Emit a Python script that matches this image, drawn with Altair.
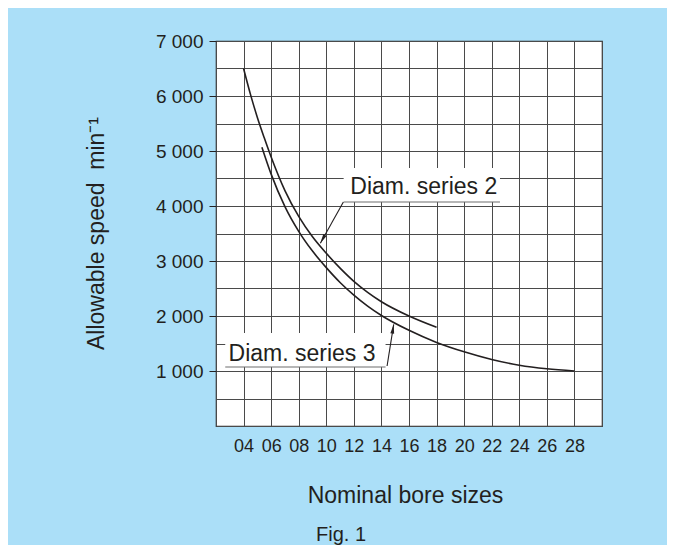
import json
import math
import altair as alt
import pandas as pd

# ---------------- data ----------------
series_names = ["Diam. series 2", "Diam. series 3"]

s2_bore = [4.0, 4.5, 5.0, 5.5, 6.0, 7.0, 8.0, 9.0, 10.0, 11.0, 12.0, 13.0, 14.0, 16.0, 18.0]
s2_speed = [6500, 6030, 5610, 5240, 4890, 4280, 3810, 3440, 3140, 2870, 2630, 2430, 2260, 2000, 1795]

s3_bore = [5.33, 6.0, 7.0, 8.0, 9.0, 10.0, 11.0, 12.0, 13.0, 14.0, 16.0, 18.0, 20.0, 22.0, 24.0, 26.0, 28.0]
s3_speed = [5070, 4580, 3990, 3540, 3180, 2880, 2610, 2380, 2180, 2010, 1740, 1520, 1350, 1210, 1105, 1040, 1000]

x_tick_values = [4, 6, 8, 10, 12, 14, 16, 18, 20, 22, 24, 26, 28]
x_tick_labels = ["04", "06", "08", "10", "12", "14", "16", "18", "20", "22", "24", "26", "28"]
y_tick_values = [1000, 2000, 3000, 4000, 5000, 6000, 7000]
y_tick_labels = ["1 000", "2 000", "3 000", "4 000", "5 000", "6 000", "7 000"]

x_grid = list(range(2, 31, 2))
y_grid = list(range(0, 7001, 500))

# annotation labels (data coordinates)
ann_text = ["Diam. series 2", "Diam. series 3"]
ann_x = [17.07, 8.24]
ann_y = [4218, 1182]
box_x1 = [11.26, 2.67]
box_x2 = [22.6, 14.3]
box_y1 = [4073, 1073]
box_y2 = [4690, 1691]
lead_x1 = [11.24, 14.41]
lead_y1 = [4073, 1091]
lead_x2 = [9.57, 14.89]
lead_y2 = [3322, 1849]

# ---------------- layout / style ----------------
FONT = "Liberation Sans"
INK = "#231f20"
PLOT_W, PLOT_H = 386, 385
X_DOM = [2, 30]
Y_DOM = [0, 7000]

df = pd.DataFrame({
    "bore": s2_bore + s3_bore,
    "speed": s2_speed + s3_speed,
    "series": [series_names[0]] * len(s2_bore) + [series_names[1]] * len(s3_bore),
})

px_per_x = PLOT_W / (X_DOM[1] - X_DOM[0])
px_per_y = PLOT_H / (Y_DOM[1] - Y_DOM[0])
angles = []
for a, b, c, d in zip(lead_x1, lead_y1, lead_x2, lead_y2):
    dx = (c - a) * px_per_x
    dy = -(d - b) * px_per_y
    angles.append(math.degrees(math.atan2(dx, -dy)) % 360)

ann = pd.DataFrame({
    "text": ann_text, "tx": ann_x, "ty": ann_y,
    "bx1": box_x1, "bx2": box_x2, "by1": box_y1, "by2": box_y2,
    "lx1": lead_x1, "ly1": lead_y1, "lx2": lead_x2, "ly2": lead_y2,
    "angle": angles,
})

xs = alt.Scale(domain=X_DOM, nice=False, zero=False)
ys = alt.Scale(domain=Y_DOM, nice=False, zero=False)

xv = json.dumps(x_tick_values)
xl = json.dumps(x_tick_labels)
yv = json.dumps(y_tick_values)
yl = json.dumps(y_tick_labels)

x_axis = alt.Axis(
    values=x_grid, grid=True, ticks=False, domain=False,
    labelExpr=f"indexof({xv}, datum.value) >= 0 ? {xl}[indexof({xv}, datum.value)] : ''",
    labelFont=FONT, labelFontSize=18, labelColor=INK, labelPadding=11,
    labelFlush=False, labelOverlap=False,
    title="Nominal bore sizes", titleFont=FONT, titleFontSize=23,
    titleFontWeight="normal", titleColor=INK,
    titleX=189, titleY=76, titleBaseline="alphabetic", titleAlign="center",
    gridColor="#4a4a4a", gridWidth=1,
)
y_axis = alt.Axis(
    values=y_grid, grid=True, domain=False,
    tickSize=7, tickColor=INK, tickWidth=1,
    tickOpacity={"condition": {"test": f"indexof({yv}, datum.value) >= 0", "value": 1}, "value": 0},
    labelExpr=f"indexof({yv}, datum.value) >= 0 ? {yl}[indexof({yv}, datum.value)] : ''",
    labelFont=FONT, labelFontSize=19, labelColor=INK, labelPadding=6,
    labelOverlap=False, labelFlush=False,
    title="Allowable speed\u00a0 min\u207b\u00b9", titleFont=FONT, titleFontSize=23,
    titleFontWeight="normal", titleColor=INK,
    titleX=-113, titleY=192, titleBaseline="alphabetic", titleAlign="center", titleAngle=270,
    gridColor="#4a4a4a", gridWidth=1,
)

curves = alt.Chart(df).mark_line(interpolate="monotone", color=INK, strokeWidth=1.6).encode(
    x=alt.X("bore:Q", scale=xs, axis=x_axis),
    y=alt.Y("speed:Q", scale=ys, axis=y_axis),
    detail="series:N",
)

base = alt.Chart(ann)
boxes = base.mark_rect(color="white").encode(
    x=alt.X("bx1:Q", scale=xs, axis=x_axis), x2="bx2:Q",
    y=alt.Y("by1:Q", scale=ys, axis=y_axis), y2="by2:Q",
)
underline = base.mark_rule(color="#6e6e6e", strokeWidth=1.2).encode(
    x=alt.X("bx1:Q", scale=xs, axis=x_axis), x2="bx2:Q",
    y=alt.Y("by1:Q", scale=ys, axis=y_axis),
)
leaders = base.mark_rule(color=INK, strokeWidth=1.1).encode(
    x=alt.X("lx1:Q", scale=xs, axis=x_axis), x2="lx2:Q",
    y=alt.Y("ly1:Q", scale=ys, axis=y_axis), y2="ly2:Q",
)
heads = base.mark_point(
    shape="M0,0L0.45,2.2L-0.45,2.2Z", filled=True, size=72, color=INK, opacity=1, strokeWidth=0
).encode(
    x=alt.X("lx2:Q", scale=xs, axis=x_axis),
    y=alt.Y("ly2:Q", scale=ys, axis=y_axis),
    angle=alt.Angle("angle:Q", scale=None),
)
labels = base.mark_text(font=FONT, fontSize=23, color=INK, align="center", baseline="alphabetic").encode(
    x=alt.X("tx:Q", scale=xs, axis=x_axis),
    y=alt.Y("ty:Q", scale=ys, axis=y_axis),
    text="text:N",
)

chart = alt.layer(curves, boxes, underline, leaders, heads, labels).properties(
    width=PLOT_W, height=PLOT_H,
    autosize=alt.AutoSizeParams(type="none"),
    padding={"left": 208, "top": 33, "right": 65, "bottom": 119},
    background="#abdff8",
    title=alt.TitleParams(
        "Fig. 1", orient="bottom", anchor="middle", font=FONT, fontSize=20,
        fontWeight="normal", color=INK, dx=-68, offset=18,
    ),
).configure_view(stroke="#2b2b2b", strokeWidth=1.2, fill="white")

chart.save("out.html", embed_options={"renderer": "svg", "actions": False})
